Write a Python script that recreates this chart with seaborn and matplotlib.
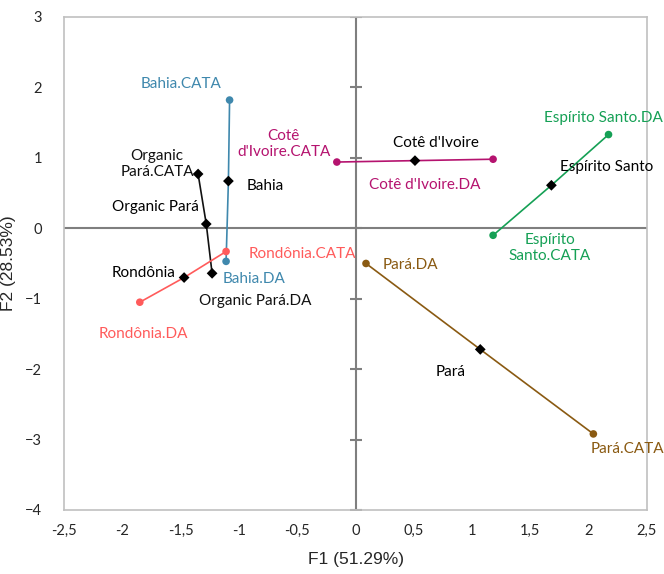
import pandas as pd
import numpy as np
import matplotlib
matplotlib.use("Agg")
import matplotlib.pyplot as plt
import seaborn as sns

# grupos: cada um tem CATA, centro e DA
grupos = ["Bahia", "Organic Pará", "Rondônia", "Cotê d'Ivoire", "Espírito Santo", "Pará"]
cores = ["#3f88ad", "#111111", "#ff5b5b", "#b5136f", "#15a055", "#8a5a12"]

cata_f1 = [-1.08, -1.35, -1.11, -0.16, 1.18, 2.04]
cata_f2 = [1.82, 0.77, -0.33, 0.94, -0.10, -2.92]
centro_f1 = [-1.09, -1.28, -1.47, 0.51, 1.68, 1.07]
centro_f2 = [0.67, 0.06, -0.70, 0.96, 0.61, -1.72]
da_f1 = [-1.11, -1.23, -1.85, 1.18, 2.17, 0.09]
da_f2 = [-0.47, -0.64, -1.05, 0.98, 1.33, -0.50]

xticks = [-2.5, -2, -1.5, -1, -0.5, 0, 0.5, 1, 1.5, 2, 2.5]
xtick_labels = ["-2,5", "-2", "-1,5", "-1", "-0,5", "0", "0,5", "1", "1,5", "2", "2,5"]
yticks = [3, 2, 1, 0, -1, -2, -3, -4]

# rótulos: (texto, deslocamento em pixels)
rotulos_cata = [("Bahia.CATA", (-49, 16)), ("Organic\nPará.CATA", (-41, 10)),
                ("Rondônia.CATA", (76, -3)), ("Cotê\nd'Ivoire.CATA", (-53, 18)),
                ("Espírito\nSanto.CATA", (57, -13)), ("Pará.CATA", (34, -15))]
rotulos_centro = [("Bahia", (37, -5)), ("Organic Pará", (-51, 17)),
                  ("Rondônia", (-41, 5)), ("Cotê d'Ivoire", (21, 18)),
                  ("Espírito Santo", (55, 18)), ("Pará", (-30, -23))]
rotulos_da = [("Bahia.DA", (28, -18)), ("Organic Pará.DA", (43, -28)),
              ("Rondônia.DA", (4, -32)), ("Cotê d'Ivoire.DA", (-68, -26)),
              ("Espírito Santo.DA", (-5, 17)), ("Pará.DA", (44, -2))]

linhas = []
for i, g in enumerate(grupos):
    linhas.append({"grupo": g, "tipo": "CATA", "F1": cata_f1[i], "F2": cata_f2[i], "ordem": 0})
    linhas.append({"grupo": g, "tipo": "centro", "F1": centro_f1[i], "F2": centro_f2[i], "ordem": 1})
    linhas.append({"grupo": g, "tipo": "DA", "F1": da_f1[i], "F2": da_f2[i], "ordem": 2})
df = pd.DataFrame(linhas).sort_values(["grupo", "ordem"])

sns.set_style("white")
plt.rcParams["font.family"] = ["Lato", "DejaVu Sans"]

fig = plt.figure(figsize=(6.64, 5.74), dpi=100)
ax = fig.add_axes([0.0964, 0.1115, 0.878, 0.859])

ax.axhline(0, color="#7f7f7f", lw=1.5, zorder=1)
ax.axvline(0, color="#7f7f7f", lw=1.5, zorder=1)
ax.plot(np.zeros(len(yticks)), yticks, ls="none", marker="_", ms=9, mew=1.5, color="#7f7f7f", zorder=1)

paleta = dict(zip(grupos, cores))
sns.lineplot(data=df, x="F1", y="F2", hue="grupo", units="grupo", estimator=None, sort=False,
             palette=paleta, lw=1.2, legend=False, ax=ax, zorder=2)

ext = df[df["tipo"] != "centro"]
sns.scatterplot(data=ext[ext["grupo"] != "Organic Pará"], x="F1", y="F2", hue="grupo",
                palette=paleta, s=30, edgecolor="none", legend=False, ax=ax, zorder=3)
pretos = df[(df["tipo"] == "centro") | (df["grupo"] == "Organic Pará")]
sns.scatterplot(data=pretos, x="F1", y="F2", color="black", marker="D", s=30,
                edgecolor="none", legend=False, ax=ax, zorder=4)

for i, g in enumerate(grupos):
    for (txt, off), x, y, cor in [(rotulos_cata[i], cata_f1[i], cata_f2[i], cores[i]),
                                  (rotulos_centro[i], centro_f1[i], centro_f2[i], "black"),
                                  (rotulos_da[i], da_f1[i], da_f2[i], cores[i])]:
        ax.annotate(txt, (x, y), xytext=off, textcoords="offset pixels", ha="center",
                    va="center", color=cor, fontsize=11, linespacing=1.2)

ax.set_xlim(-2.5, 2.5)
ax.set_ylim(-4, 3)
ax.set_xticks(xticks)
ax.set_xticklabels(xtick_labels)
ax.set_yticks(yticks)
ax.tick_params(axis="both", length=0, labelsize=10.5)
ax.tick_params(axis="x", pad=10)
ax.tick_params(axis="y", pad=16)
for s in ax.spines.values():
    s.set_color("#c0c0c0")
    s.set_linewidth(1.2)
ax.set_xlabel("F1 (51.29%)", fontsize=12.5, family="Liberation Sans")
ax.set_ylabel("F2 (28.53%)", fontsize=12.5, family="Liberation Sans")
ax.xaxis.set_label_coords(0.5, -0.085)
ax.yaxis.set_label_coords(-0.083, 0.5)

fig.savefig("out.png", dpi=100)
